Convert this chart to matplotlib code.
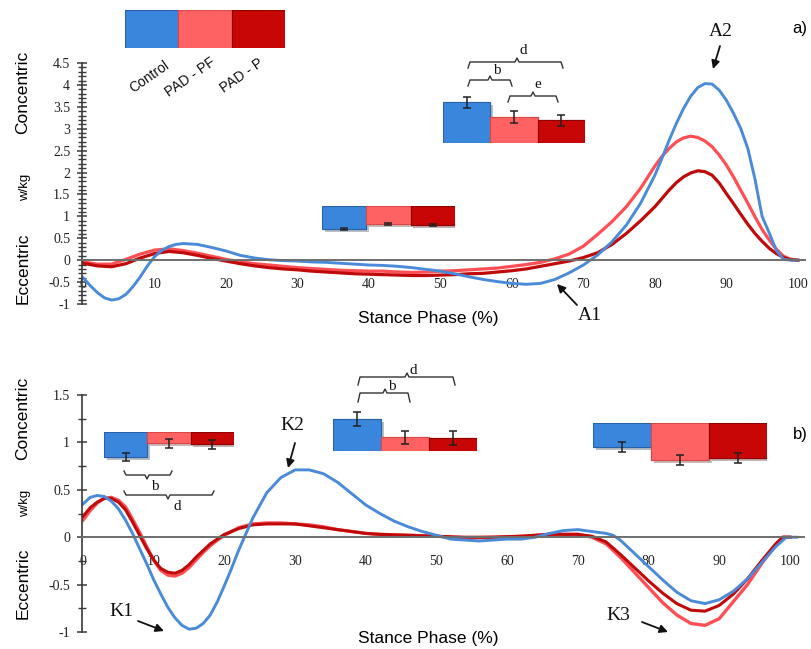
import numpy as np
import matplotlib.pyplot as plt
import matplotlib.patheffects as pe
from matplotlib.ticker import MultipleLocator

plt.rcParams['font.family'] = 'Liberation Sans'
SERIF = 'Liberation Serif'

groups = ['Control', 'PAD - PF', 'PAD - P']
line_colors = ['#4a8bd9', '#ff4f55', '#c00a0a']
bar_colors = ['#3a86dc', '#ff6262', '#c80606']
bar_edges = ['#2a62a8', '#d84848', '#8e0000']

# ---- panel a: ankle power (w/kg) over the stance phase ----
a_ctrl_x = [0, 1, 2, 3, 4, 5, 6, 7, 8, 9, 10, 11, 12, 13, 14, 16, 18, 20, 22, 24, 26, 28, 30,
            32, 34, 36, 38, 40, 42, 44, 46, 48, 50, 52, 54, 56, 58, 60, 62, 64, 66, 68, 70,
            72, 74, 76, 78, 80, 81, 82, 83, 84, 85, 86, 87, 88, 89, 90, 91, 92, 93, 94, 95,
            96, 97, 98, 99, 100]
a_ctrl_y = [-0.40, -0.58, -0.74, -0.86, -0.91, -0.88, -0.78, -0.60, -0.38, -0.13, 0.08, 0.22,
            0.31, 0.36, 0.38, 0.36, 0.29, 0.21, 0.11, 0.05, 0.01, -0.01, -0.02, -0.04, -0.05,
            -0.07, -0.09, -0.11, -0.12, -0.14, -0.17, -0.21, -0.25, -0.31, -0.38, -0.44, -0.49,
            -0.53, -0.55, -0.53, -0.44, -0.29, -0.11, 0.12, 0.42, 0.80, 1.30, 1.94, 2.33, 2.74,
            3.12, 3.46, 3.74, 3.94, 4.03, 4.02, 3.88, 3.65, 3.35, 3.01, 2.55, 1.85, 1.00, 0.62,
            0.22, 0.02, 0.00, 0.00]

a_pf_x = [0, 2, 4, 6, 8, 10, 12, 14, 16, 18, 20, 22, 24, 26, 28, 30, 32, 34, 36, 38, 40, 42,
          44, 46, 48, 50, 52, 54, 56, 58, 60, 62, 64, 66, 68, 70, 72, 74, 76, 78, 80, 81, 82,
          83, 84, 85, 86, 87, 88, 89, 90, 91, 92, 93, 94, 95, 96, 97, 98, 99, 100]
a_pf_y = [-0.04, -0.09, -0.09, 0.02, 0.14, 0.23, 0.26, 0.22, 0.16, 0.09, 0.02, -0.04, -0.08,
          -0.11, -0.14, -0.17, -0.19, -0.21, -0.23, -0.24, -0.25, -0.25, -0.27, -0.28, -0.27,
          -0.25, -0.24, -0.22, -0.20, -0.18, -0.14, -0.10, -0.05, 0.03, 0.14, 0.32, 0.59, 0.88,
          1.22, 1.64, 2.15, 2.37, 2.55, 2.70, 2.79, 2.83, 2.80, 2.72, 2.59, 2.40, 2.17, 1.90,
          1.60, 1.30, 0.99, 0.70, 0.46, 0.25, 0.09, 0.02, 0.00]

a_p_x = a_pf_x
a_p_y = [-0.07, -0.13, -0.15, -0.08, 0.05, 0.15, 0.20, 0.17, 0.11, 0.04, -0.02, -0.08, -0.13,
         -0.17, -0.20, -0.22, -0.25, -0.27, -0.29, -0.31, -0.32, -0.33, -0.34, -0.35, -0.35,
         -0.34, -0.33, -0.31, -0.30, -0.27, -0.24, -0.20, -0.14, -0.08, -0.02, 0.06, 0.17, 0.36,
         0.61, 0.90, 1.22, 1.41, 1.60, 1.77, 1.90, 1.99, 2.04, 2.02, 1.94, 1.76, 1.52, 1.29,
         1.05, 0.82, 0.61, 0.43, 0.27, 0.15, 0.06, 0.01, 0.00]

# ---- panel b: knee power (w/kg) over the stance phase ----
b_ctrl_x = [0, 1, 2, 3, 4, 5, 6, 7, 8, 9, 10, 11, 12, 13, 14, 15, 16, 17, 18, 19, 20, 21, 22,
            23, 24, 26, 28, 30, 32, 34, 36, 38, 40, 42, 44, 46, 48, 50, 52, 54, 56, 58, 60, 62,
            64, 66, 68, 70, 72, 74, 75, 76, 78, 80, 82, 84, 86, 88, 90, 92, 94, 96, 98, 99.5, 101]
b_ctrl_y = [0.35, 0.42, 0.44, 0.43, 0.38, 0.30, 0.18, 0.04, -0.12, -0.28, -0.45, -0.60, -0.74,
            -0.85, -0.93, -0.97, -0.96, -0.91, -0.82, -0.68, -0.51, -0.33, -0.14, 0.03, 0.20,
            0.47, 0.63, 0.71, 0.71, 0.67, 0.58, 0.46, 0.34, 0.25, 0.17, 0.11, 0.06, 0.02, -0.02,
            -0.03, -0.04, -0.03, -0.02, -0.02, 0.00, 0.04, 0.07, 0.08, 0.06, 0.04, 0.02, -0.03,
            -0.17, -0.31, -0.45, -0.58, -0.67, -0.70, -0.66, -0.57, -0.44, -0.27, -0.10, 0.00, 0.00]

b_pf_x = [0, 1, 2, 3, 4, 5, 6, 7, 8, 9, 10, 11, 12, 13, 14, 15, 16, 17, 18, 19, 20, 22, 24,
          26, 28, 30, 32, 34, 36, 38, 40, 42, 46, 50, 54, 58, 62, 66, 70, 72, 74, 76, 78, 80,
          82, 84, 86, 88, 90, 92, 94, 96, 98, 99, 100]
b_pf_y = [0.18, 0.28, 0.36, 0.41, 0.42, 0.39, 0.32, 0.19, 0.05, -0.10, -0.24, -0.35, -0.40,
          -0.41, -0.38, -0.32, -0.24, -0.16, -0.09, -0.03, 0.02, 0.10, 0.14, 0.15, 0.15, 0.14,
          0.13, 0.11, 0.08, 0.06, 0.04, 0.03, 0.02, 0.01, -0.01, 0.00, 0.01, 0.03, 0.03, 0.00,
          -0.07, -0.21, -0.37, -0.53, -0.69, -0.82, -0.91, -0.93, -0.86, -0.68, -0.50, -0.28,
          -0.08, 0.00, 0.00]

b_p_x = b_pf_x
b_p_y = [0.22, 0.31, 0.37, 0.41, 0.41, 0.37, 0.29, 0.16, 0.02, -0.12, -0.24, -0.33, -0.37,
         -0.38, -0.35, -0.29, -0.21, -0.14, -0.07, -0.02, 0.03, 0.09, 0.13, 0.14, 0.14, 0.14,
         0.12, 0.10, 0.08, 0.06, 0.04, 0.03, 0.02, 0.01, 0.00, 0.00, 0.01, 0.03, 0.03, 0.01,
         -0.05, -0.18, -0.32, -0.46, -0.59, -0.70, -0.77, -0.78, -0.72, -0.60, -0.44, -0.25,
         -0.07, 0.00, 0.00]

# ---- inset bar charts (peak values, mean and error) ----
a2_vals, a2_err = [4.1, 2.6, 2.3], [0.55, 0.6, 0.55]
a1_vals, a1_err = [-2.3, -1.8, -1.9], [0.12, 0.12, 0.12]
k1_vals, k1_err = [-2.5, -1.1, -1.2], [0.4, 0.45, 0.45]
k2_vals, k2_err = [3.2, 1.4, 1.3], [0.7, 0.65, 0.7]
k3_vals, k3_err = [-2.4, -3.7, -3.5], [0.5, 0.5, 0.5]

a_yticks = [-1, -0.5, 0, 0.5, 1, 1.5, 2, 2.5, 3, 3.5, 4, 4.5]
b_yticks = [-1, -0.5, 0, 0.5, 1, 1.5]
xticks = list(range(0, 101, 10))

W, H = 812, 649
fig = plt.figure(figsize=(W / 100, H / 100), dpi=100)


def px_rect(x0, y0, x1, y1):
    return [x0 / W, 1 - y1 / H, (x1 - x0) / W, (y1 - y0) / H]


def style_axis(ax, xmax, yticks, minor):
    ax.set_xlim(-0.15, xmax)
    ax.set_ylim(yticks[0], yticks[-1])
    ax.patch.set_alpha(0)
    for s in ['top', 'right']:
        ax.spines[s].set_visible(False)
    ax.spines['bottom'].set_position(('data', 0))
    ax.spines['bottom'].set_color('#6e6e6e')
    ax.spines['bottom'].set_linewidth(1.4)
    ax.spines['left'].set_color('#3a3a3a')
    ax.spines['left'].set_linewidth(1.2)
    ax.set_yticks(yticks)
    ax.set_yticklabels(['%g' % v for v in yticks])
    ax.yaxis.set_minor_locator(MultipleLocator(minor))
    ax.tick_params(axis='y', which='major', direction='inout', length=7, width=1.1,
                   color='#3a3a3a', pad=5)
    ax.tick_params(axis='y', which='minor', direction='inout', length=5.5, width=1.0,
                   color='#3a3a3a')
    ax.set_xticks(xticks)
    ax.tick_params(axis='x', length=0, pad=12.5)
    for lab in ax.get_xticklabels() + ax.get_yticklabels():
        lab.set_fontfamily(SERIF)
        lab.set_fontsize(10)
        lab.set_color('#222222')


ax_a = fig.add_axes(px_rect(82, 63, 805, 304))
style_axis(ax_a, 101, a_yticks, 0.1)
ax_a.plot(a_pf_x, a_pf_y, color=line_colors[1], lw=2.3)
ax_a.plot(a_p_x, a_p_y, color=line_colors[2], lw=2.3)
ax_a.plot(a_ctrl_x, a_ctrl_y, color=line_colors[0], lw=2.1)

ax_b = fig.add_axes(px_rect(82, 395, 804, 632))
style_axis(ax_b, 102, b_yticks, 0.25)
ax_b.plot(b_pf_x, b_pf_y, color=line_colors[1], lw=2.4)
ax_b.plot(b_p_x, b_p_y, color=line_colors[2], lw=2.2)
ax_b.plot(b_ctrl_x, b_ctrl_y, color=line_colors[0], lw=2.1)


def bar_inset(rect, vals, errs, ylim):
    ax = fig.add_axes(px_rect(*rect))
    ax.set_xlim(-0.5, 2.5)
    ax.set_ylim(*ylim)
    ax.axis('off')
    bars = ax.bar(range(3), vals, width=1.0, color=bar_colors, edgecolor=bar_edges,
                  linewidth=0.8)
    for b in bars:
        b.set_path_effects([pe.withSimplePatchShadow(offset=(2, -2), alpha=0.3), pe.Normal()])
    if errs is not None:
        eb = ax.errorbar(range(3), vals, yerr=errs, fmt='none', ecolor='#222222',
                         elinewidth=1.1, capsize=2.6, capthick=1.1)
        for art in eb.lines[1] + eb.lines[2]:
            art.set_clip_on(False)
    return ax


bar_inset((125, 10, 285, 48), [1, 1, 1], None, (0, 1))
bar_inset((443, 90, 585, 143), a2_vals, a2_err, (0, 5.3))
bar_inset((322, 206, 455, 236), a1_vals, a1_err, (-3.0, 0))
bar_inset((104, 432, 234, 465), k1_vals, k1_err, (-3.3, 0))
bar_inset((333, 405, 477, 451), k2_vals, k2_err, (0, 4.6))
bar_inset((593, 423, 767, 470), k3_vals, k3_err, (-4.7, 0))

# overlay in pixel coordinates for text, braces and arrows
ov = fig.add_axes([0, 0, 1, 1])
ov.set_xlim(0, W)
ov.set_ylim(H, 0)
ov.axis('off')

for name, (x, y) in zip(groups, [(149, 77), (190, 77), (242, 76)]):
    ov.text(x, y, name, rotation=35, ha='center', va='center', fontsize=10, color='#111111')


def brace(x1, x2, y, tx, end, label, lx, ly):
    sgn = 1 if end > 0 else -1
    xs = [x1, x1 + 2, tx - 2, tx, tx + 2, x2 - 2, x2]
    ys = [y + end, y, y, y - sgn * 4, y, y, y + end]
    ov.plot(xs, ys, color='#333333', lw=1.0)
    ov.text(lx, ly, label, family=SERIF, fontsize=11, ha='center', va='center', color='#111111')


brace(468, 563, 62, 517, 6, 'd', 523, 50)
brace(468, 512, 80, 490, 6, 'b', 497, 71)
brace(508, 558, 96, 533, 6, 'e', 538, 85)
brace(358, 455, 377, 407, 8, 'd', 413, 370)
brace(358, 410, 393, 385, 9, 'b', 392, 387)
brace(124, 172, 475, 147, -4, 'b', 155, 486)
brace(124, 214, 495, 168, -4, 'd', 177, 507)

arrows = [('A2', (721, 31), (720, 46), (713, 69)),
          ('A1', (590, 315), (577, 305), (557, 284)),
          ('K2', (292, 425), (295, 443), (288, 468)),
          ('K1', (121, 612), (138, 621), (164, 631)),
          ('K3', (618, 615), (642, 622), (668, 632))]
for name, (tx, ty), tail, tip in arrows:
    ov.text(tx, ty, name, family=SERIF, fontsize=14, ha='center', va='center', color='#111111')
    ov.annotate('', xy=tip, xytext=tail,
                arrowprops=dict(arrowstyle='-|>', color='#111111', lw=1.3, mutation_scale=12,
                                shrinkA=0, shrinkB=0))

for y_conc, y_unit, y_ecc, y_x, tag, tag_y in [(92, 187, 268, 319, 'a)', 28),
                                               (418, 503, 583, 638, 'b)', 435)]:
    ov.text(23, y_conc, 'Concentric', rotation=90, ha='center', va='center', fontsize=12.5)
    ov.text(25, y_unit, 'w/kg', rotation=90, ha='center', va='center', fontsize=9.5)
    ov.text(23, y_ecc, 'Eccentric', rotation=90, ha='center', va='center', fontsize=12.5)
    ov.text(428, y_x, 'Stance Phase (%)', ha='center', va='center', fontsize=12.5)
    ov.text(800, tag_y, tag, ha='center', va='center', fontsize=12)

fig.savefig('out.png', dpi=100)
